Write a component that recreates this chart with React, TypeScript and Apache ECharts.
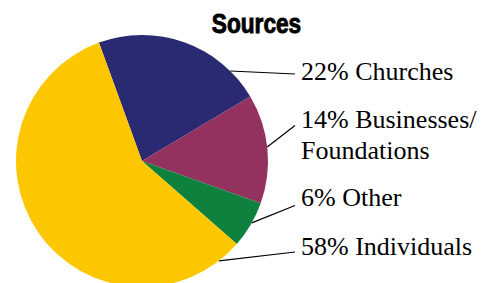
import React, { useEffect, useRef } from "react";
import * as echarts from "echarts";

const titleText = "Sources";
const categories = ["Churches", "Businesses/\nFoundations", "Other", "Individuals"];
const values = [22, 14, 6, 58];
const colors = ["#2a2a72", "#93325f", "#0e813f", "#fdc700"];
// label anchor angles on the rim (degrees, counter-clockwise from +x) and label centre heights
const anchorAngles = [45.6, 6.4, -29.4, -52.4];
const labelYs = [71, 134.5, 197.5, 246];

const CX = 142;
const CY = 161;
const R = 126;
const LABEL_X = 301;
const LINE_END_X = 295;

export default function App() {
  const ref = useRef<HTMLDivElement>(null);
  useEffect(() => {
    if (!ref.current) return;
    const chart = echarts.init(ref.current, undefined, { renderer: "svg" });
    chart.setOption({
      animation: false,
      backgroundColor: "#ffffff",
      graphic: [
        {
          type: "text",
          x: 256.5,
          y: 23,
          scaleX: 0.84,
          style: {
            text: titleText,
            font: "bold 27px 'Liberation Sans', Arial, sans-serif",
            fill: "#000",
            stroke: "#000",
            lineWidth: 0.9,
            textAlign: "center",
            textVerticalAlign: "middle",
          },
        },
      ],
      series: [
        {
          type: "pie",
          center: [CX, CY],
          radius: R,
          startAngle: 110,
          clockwise: true,
          avoidLabelOverlap: false,
          data: categories.map((c, i) => ({
            name: c,
            value: values[i],
            itemStyle: { color: colors[i] },
          })),
          label: {
            show: true,
            formatter: (p: any) => `${p.value}% ${p.name}`,
            fontFamily: "Liberation Serif",
            fontSize: 26,
            lineHeight: 31,
            color: "#000",
            overflow: "none",
          },
          labelLine: {
            show: true,
            lineStyle: { color: "#000", width: 1.2 },
          },
          labelLayout: (params: any) => {
            const i = params.dataIndex;
            const a = (anchorAngles[i] * Math.PI) / 180;
            const sx = CX + R * Math.cos(a);
            const sy = CY - R * Math.sin(a);
            const y = labelYs[i];
            const endY = i === 1 ? y - 9 : i === 2 ? y + 8 : i === 3 ? y + 6 : y + 3;
            return {
              x: LABEL_X,
              y: y,
              align: "left",
              verticalAlign: "middle",
              hideOverlap: false,
              moveOverlap: undefined,
              labelLinePoints: [
                [sx, sy],
                [LINE_END_X, endY],
                [LINE_END_X, endY],
              ],
            };
          },
          emphasis: { disabled: true },
        },
      ],
    });
    return () => chart.dispose();
  }, []);
  return (
    <div
      ref={ref}
      style={{ position: "fixed", left: 0, top: 0, width: 491, height: 283 }}
    />
  );
}
